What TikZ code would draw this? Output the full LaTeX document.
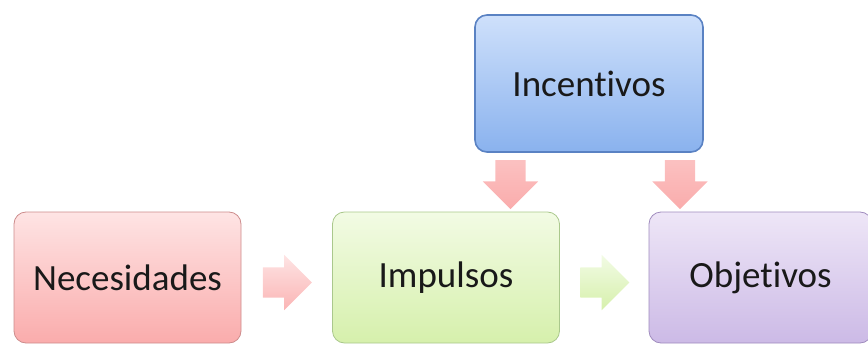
\documentclass[tikz,border=0pt]{standalone}
\usepackage{fontspec}
\setmainfont{Carlito}[Ligatures={NoCommon,NoRequired}]
\usetikzlibrary{shapes.arrows,calc}
\definecolor{necA}{RGB}{254,228,228}
\definecolor{necB}{RGB}{250,172,172}
\definecolor{necD}{RGB}{205,140,140}
\definecolor{impA}{RGB}{242,251,228}
\definecolor{impB}{RGB}{214,240,172}
\definecolor{impD}{RGB}{170,200,140}
\definecolor{objA}{RGB}{238,230,247}
\definecolor{objB}{RGB}{204,186,230}
\definecolor{objD}{RGB}{160,140,190}
\definecolor{incA}{RGB}{206,224,251}
\definecolor{incB}{RGB}{138,178,238}
\definecolor{incD}{RGB}{90,130,195}

\begin{document}
\begin{tikzpicture}[x=1pt, y=1pt,
    caja/.style={draw, rounded corners=12pt, minimum width=227pt, minimum height=131pt, font=\fontsize{37}{44}\selectfont, text=black!90, line width=0.8pt},
    flecha/.style={single arrow, minimum height=49pt, single arrow head extend=12.5pt, single arrow head indent=0pt, inner xsep=0pt, inner ysep=15pt, draw=none},
    abajo/.style={flecha, shape border rotate=270, inner xsep=15pt, inner ysep=0pt, top color=necB!75, bottom color=necB},
]
\useasboundingbox (0,0) rectangle (868,-345);

% Cajas
\node[caja, top color=necA, bottom color=necB, draw=necD] (nec) at (127.5,-277.5) {Necesidades};
\node[caja, top color=impA, bottom color=impB, draw=impD] (imp) at (446,-277.5) {Impulsos};
\node[caja, minimum width=223pt, top color=objA, bottom color=objB, draw=objD] (obj) at (760.5,-277.5) {Objetivos};
\node[caja, minimum width=228pt, minimum height=137pt, top color=incA, bottom color=incB, draw=incD, line width=1.6pt] (inc) at (589,-83.5) {Incentivos};

% Flechas
\node[flecha, top color=necA, bottom color=necB!90] (f1) at ($(nec.east)!0.5!(imp.west)+(-7,-5)$) {};
\node[flecha, top color=impA, bottom color=impB] (f2) at ($(imp.east)!0.5!(obj.west)+(-7,-5)$) {};
\node[abajo] (f3) at (510.5,-177) {};
\node[abajo] (f4) at (680,-177) {};
\end{tikzpicture}
\end{document}
